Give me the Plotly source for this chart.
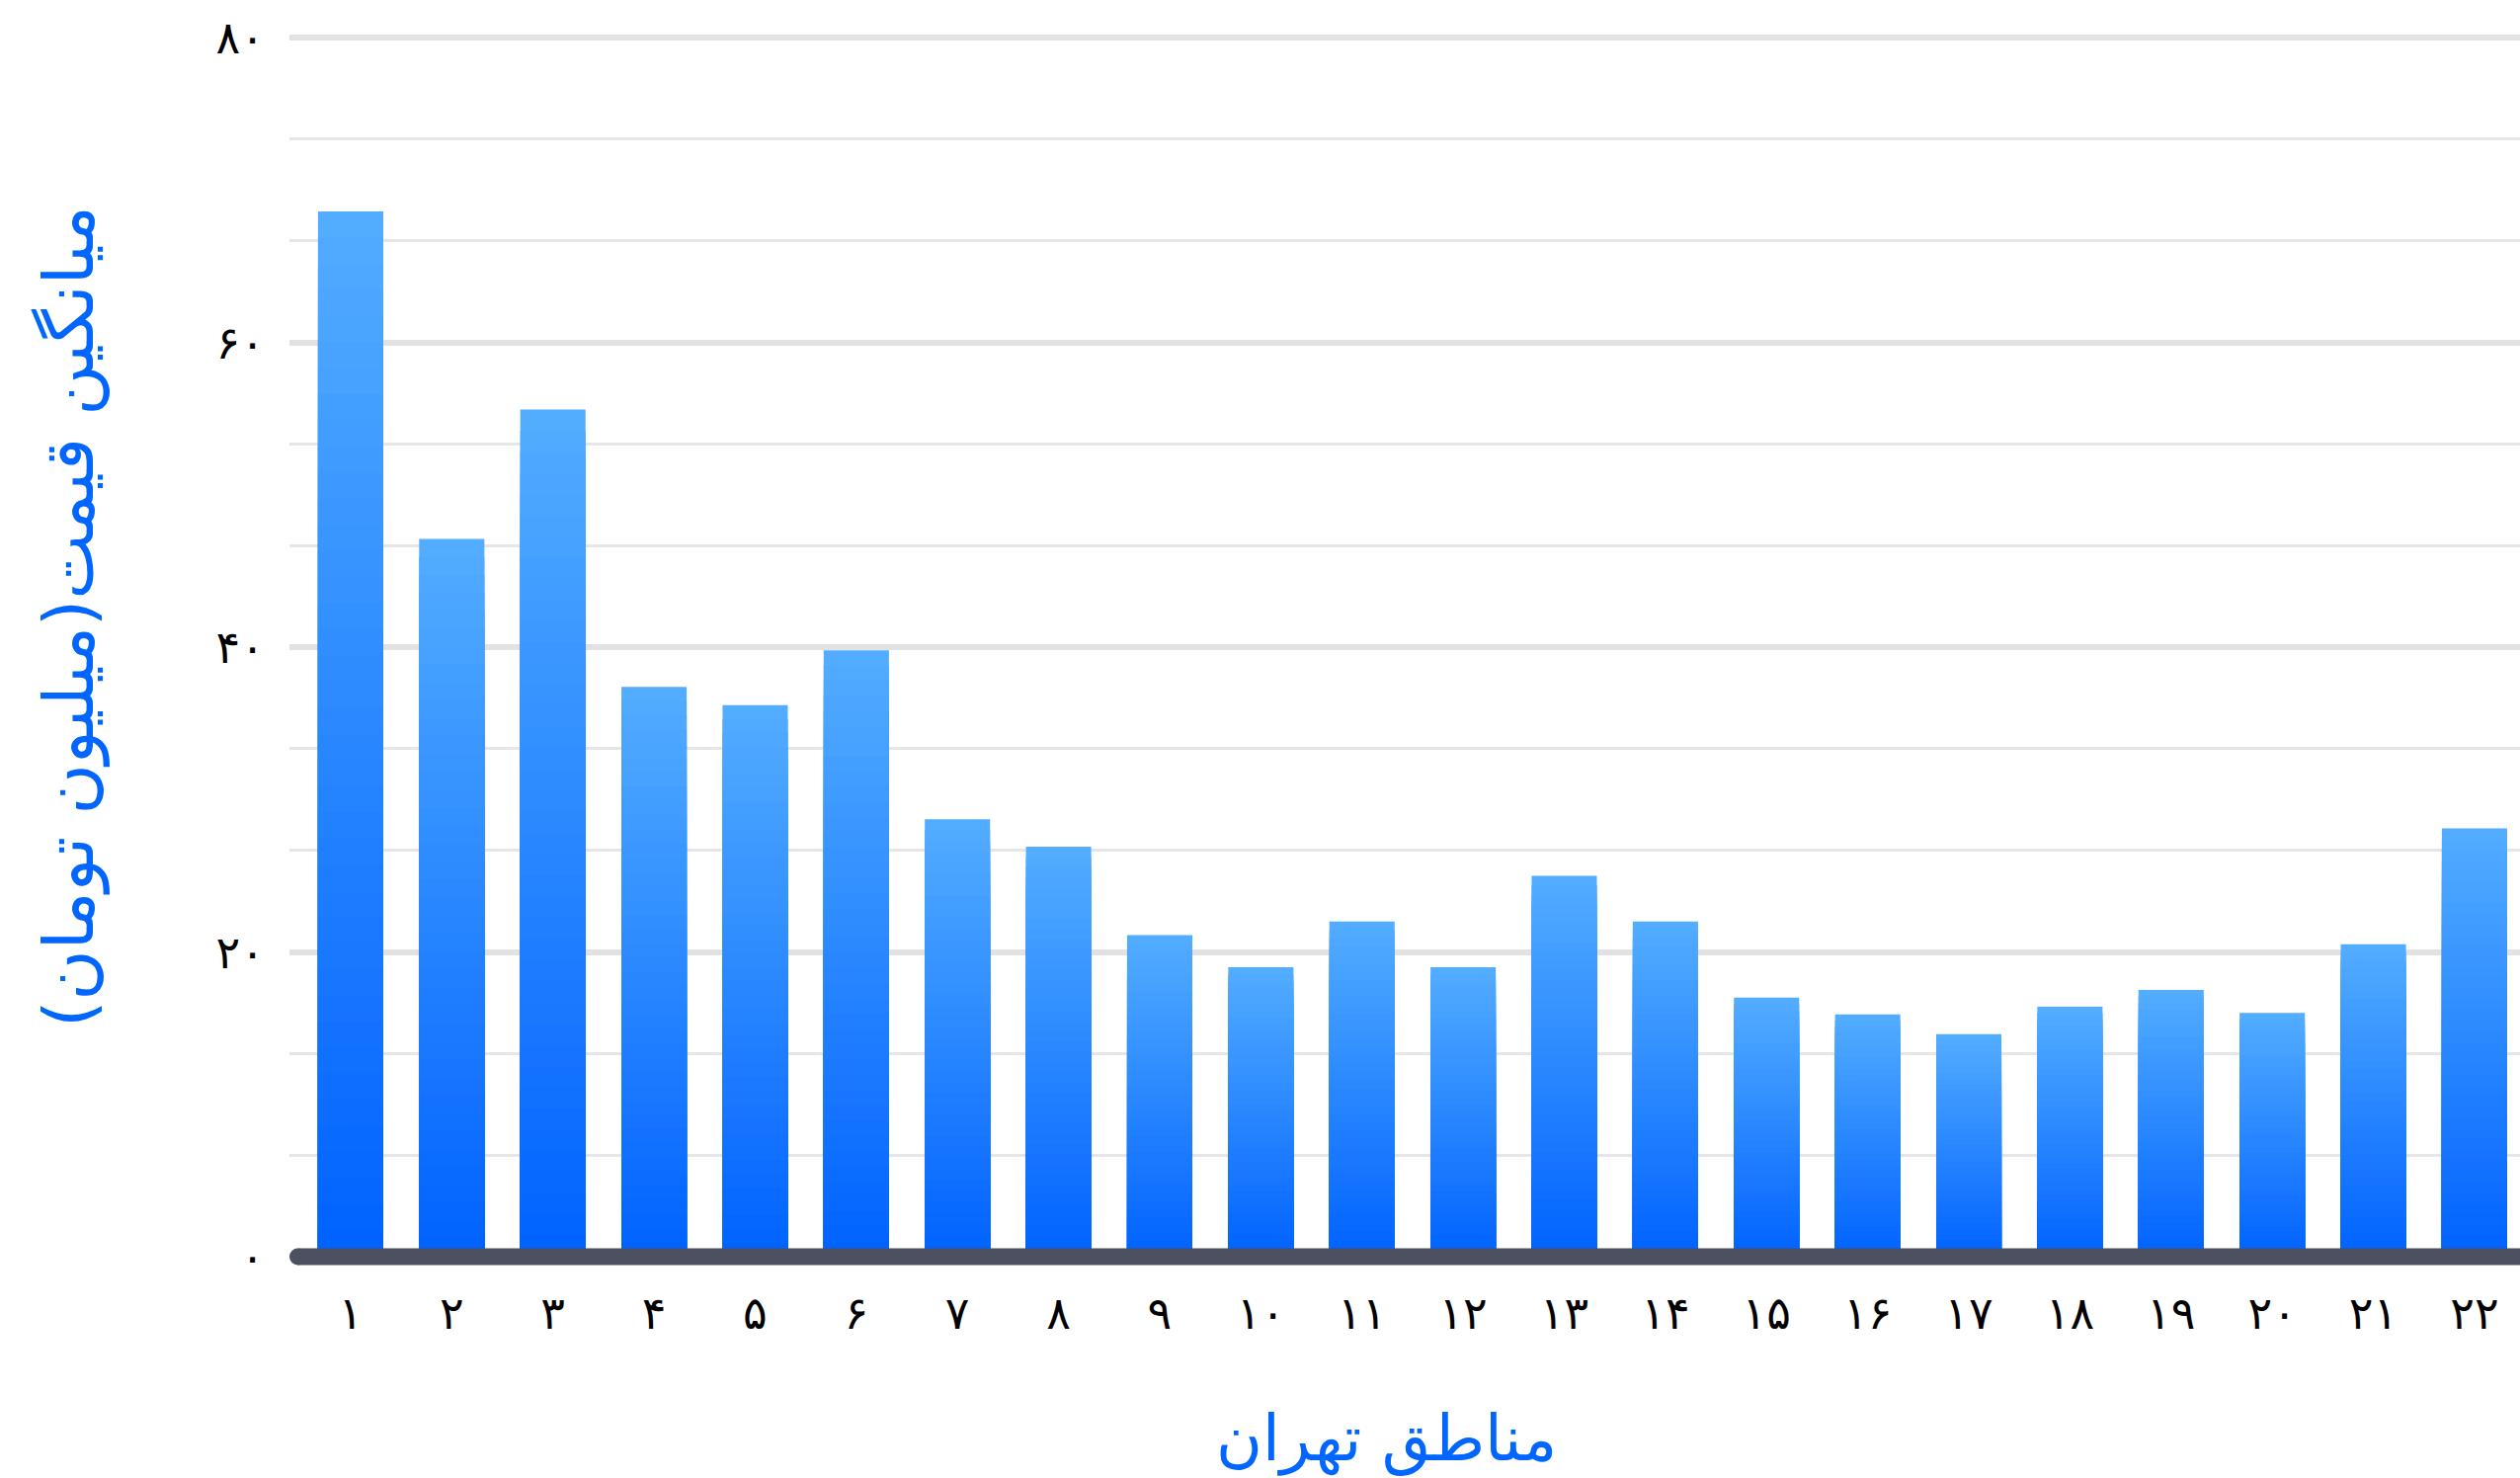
import plotly.graph_objects as go

districts = ["۱", "۲", "۳", "۴", "۵", "۶", "۷", "۸", "۹", "۱۰", "۱۱",
             "۱۲", "۱۳", "۱۴", "۱۵", "۱۶", "۱۷", "۱۸", "۱۹", "۲۰", "۲۱", "۲۲"]
avg_price = [68.6, 47.1, 55.6, 37.4, 36.2, 39.8, 28.7, 26.9, 21.1, 19.0, 22.0,
             19.0, 25.0, 22.0, 17.0, 15.9, 14.6, 16.4, 17.5, 16.0, 20.5, 28.1]
y_tick_vals = [0, 20, 40, 60, 80]
y_tick_text = ["۰", "۲۰", "۴۰", "۶۰", "۸۰"]
minor_grid_vals = [20 * i / 3 for i in range(1, 12) if i % 3 != 0]
x_title = "مناطق تهران"
y_title = "میانگین قیمت(میلیون تومان)"

W, H = 2551, 1496
Y_TOP = 80.4
px_per_unit = (1272 - 38) / 80.0
MB = H - 1272
MT = 1272 - round(px_per_unit * Y_TOP)
ML, MR = 293, 0
FONT = "DejaVu Sans"
TOP_RGB = (83, 173, 255)
BOT_RGB = (0, 98, 255)
K = 40

fig = go.Figure()
for k in range(K):
    frac_h = (K - k) / K
    f = (K - k - 0.5) / K
    rgb = tuple(round(BOT_RGB[i] + (TOP_RGB[i] - BOT_RGB[i]) * f) for i in range(3))
    fig.add_trace(go.Bar(
        x=districts,
        y=[v * frac_h for v in avg_price],
        marker=dict(color="rgb(%d,%d,%d)" % rgb, line=dict(width=0)),
        hoverinfo="skip" if k else "y",
        showlegend=False,
    ))

pw = W - ML - MR
ph = H - MT - MB
cap = 17
fig.add_shape(type="line", xref="paper", yref="paper", x0=(cap / 2) / pw, x1=1.0,
              y0=0, y1=0, line=dict(color="#4c5061", width=cap), layer="above")
fig.add_shape(type="circle", xref="paper", yref="paper",
              xsizemode="pixel", xanchor=0, x0=0, x1=cap,
              ysizemode="pixel", yanchor=0, y0=-cap / 2, y1=cap / 2,
              fillcolor="#4c5061", line=dict(width=0), layer="above")

fig.add_annotation(text=y_title, xref="paper", yref="paper",
                   x=(70 - ML) / pw, y=(1272 - 624) / ph, textangle=-90,
                   showarrow=False, xanchor="center", yanchor="middle",
                   font=dict(family=FONT, size=70, color="#0066ff"))
fig.add_annotation(text=x_title, xref="paper", yref="paper",
                   x=(1403 - ML) / pw, y=(1272 - 1456) / ph,
                   showarrow=False, xanchor="center", yanchor="middle",
                   font=dict(family=FONT, size=64, color="#0066ff"))

fig.update_layout(
    width=W, height=H,
    margin=dict(l=ML, r=MR, t=MT, b=MB, pad=0),
    barmode="overlay", bargap=0.355,
    plot_bgcolor="white", paper_bgcolor="white",
    font=dict(family=FONT, size=46, color="black"),
    xaxis=dict(type="category", range=[-0.605, 21.45], showgrid=False,
               zeroline=False, showline=False, ticks="", ticklabelstandoff=26,
               tickfont=dict(size=46, color="black")),
    yaxis=dict(range=[0, Y_TOP], tickvals=y_tick_vals, ticktext=y_tick_text,
               showgrid=True, gridcolor="#e2e2e2", gridwidth=6,
               zeroline=False, showline=False, ticks="", ticklabelstandoff=24,
               tickfont=dict(size=46, color="black"),
               minor=dict(tickvals=minor_grid_vals, showgrid=True,
                          gridcolor="#e6e6e6", gridwidth=3, ticks="")),
)

fig.write_html("out.html", config={"displayModeBar": False},
               post_script="document.body.style.margin='0';")
